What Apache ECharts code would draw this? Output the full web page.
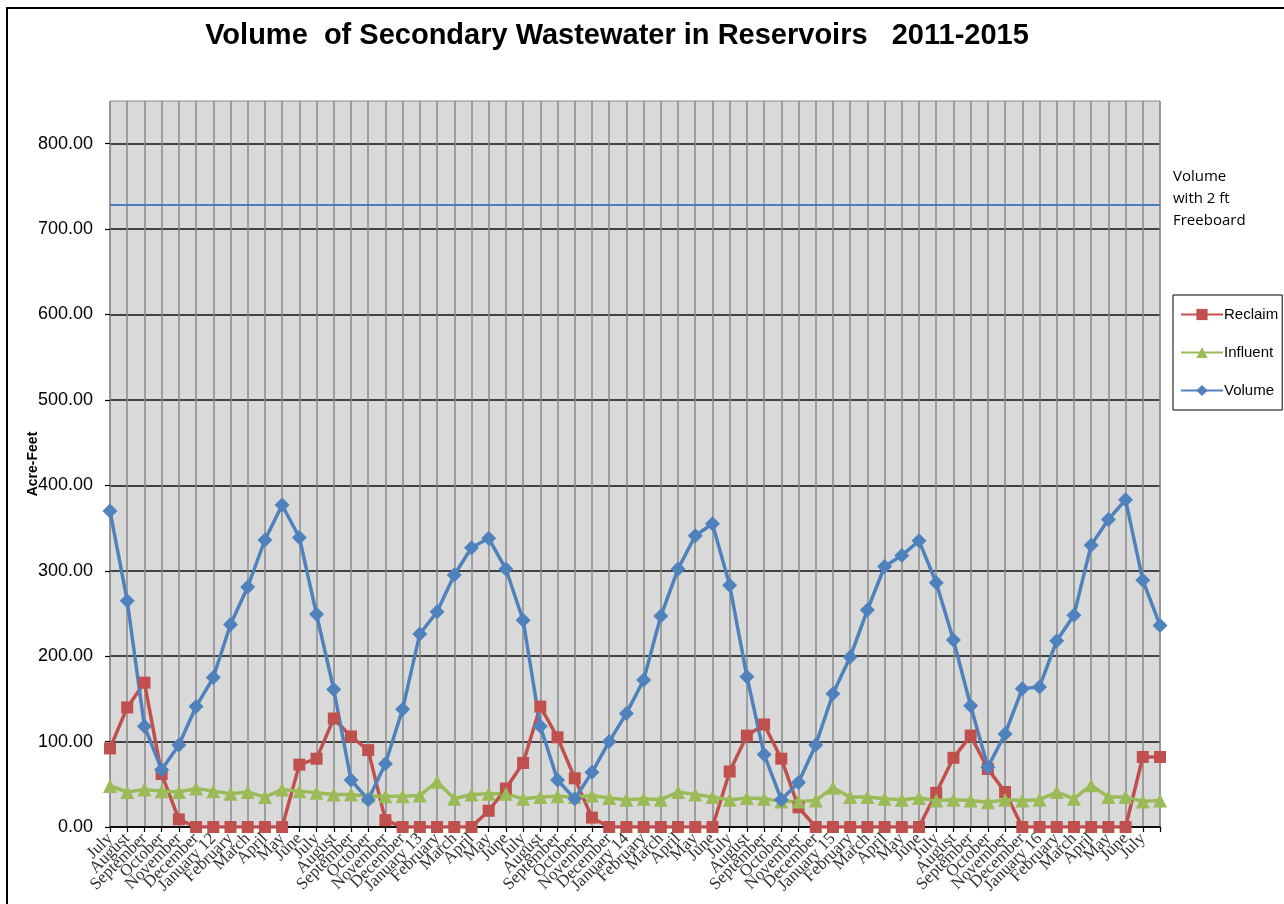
<!DOCTYPE html>
<html>
<head>
<meta charset="utf-8">
<title>Volume of Secondary Wastewater in Reservoirs 2011-2015</title>
<script src="https://cdn.jsdelivr.net/npm/echarts@6/dist/echarts.min.js"></script>
<style>
  html, body { margin: 0; padding: 0; background: #fff; }
  #chart { width: 1284px; height: 904px; }
</style>
</head>
<body>
<div id="chart"></div>
<script>
// July 2011 .. July 2016, last point has no label in the original
const months = [
  "July", "August", "September", "October", "November", "December",
  "January 12", "February", "March", "April", "May", "June",
  "July", "August", "September", "October", "November", "December",
  "January 13", "February", "March", "April", "May", "June",
  "July", "August", "September", "October", "November", "December",
  "January 14", "February", "March", "April", "May", "June",
  "July", "August", "September", "October", "November", "December",
  "January 15", "February", "March", "April", "May", "June",
  "July", "August", "September", "October", "November", "December",
  "January 16", "February", "March", "April", "May", "June",
  "July", ""
];

const reclaim = [
  92, 140, 169, 62, 9, 0, 0, 0, 0, 0, 0, 73,
  80, 127, 106, 90, 8, 0, 0, 0, 0, 0, 19, 45,
  75, 141, 105, 57, 11, 0, 0, 0, 0, 0, 0, 0,
  65, 107, 120, 80, 23, 0, 0, 0, 0, 0, 0, 0,
  40, 81, 107, 68, 41, 0, 0, 0, 0, 0, 0, 0,
  82, 82
];

const influent = [
  48, 41, 44, 42, 41, 45, 42, 39, 41, 35, 44, 42,
  40, 38, 38, 36, 36, 36, 37, 53, 33, 38, 39, 39,
  33, 35, 36, 35, 37, 34, 32, 33, 32, 41, 38, 35,
  32, 34, 33, 30, 30, 31, 46, 35, 35, 33, 32, 34,
  31, 32, 31, 29, 32, 31, 32, 41, 33, 49, 35, 35,
  30, 31
];

const volume = [
  370, 265, 118, 67, 96, 141, 175, 237, 281, 336, 377, 339,
  249, 161, 55, 32, 74, 138, 226, 252, 295, 327, 338, 302,
  242, 118, 55, 33, 64, 100, 133, 172, 247, 302, 341, 355,
  283, 176, 85, 32, 52, 96, 156, 199, 254, 305, 318, 335,
  286, 219, 142, 70, 109, 162, 164, 218, 248, 330, 360, 383,
  289, 236
];

const freeboardLevel = 729;

const chart = echarts.init(document.getElementById("chart"));

const option = {
  animation: false,
  backgroundColor: "#fff",
  title: {
    text: "Volume  of Secondary Wastewater in Reservoirs   2011-2015",
    left: 617,
    top: 21,
    padding: 0,
    textAlign: "center",
    textStyle: {
      fontFamily: "Liberation Sans, Arial, sans-serif",
      fontWeight: "bold",
      fontSize: 29,
      color: "#000",
    },
  },
  legend: {
    orient: "vertical",
    left: 1173,
    top: 295,
    padding: [12, 4, 12, 7],
    itemGap: 23,
    itemWidth: 42,
    itemHeight: 14,
    borderColor: "#000",
    borderWidth: 1,
    backgroundColor: "#fff",
    data: ["Reclaim", "Influent", "Volume"],
    textStyle: {
      fontFamily: "Liberation Sans, Arial, sans-serif",
      fontSize: 15,
      color: "#000",
      padding: [0, 0, 0, -4],
    },
  },
  grid: {
    left: 110,
    right: 124,
    top: 101,
    bottom: 77,
    containLabel: false,
    show: true,
    backgroundColor: "#D9D9D9",
    borderColor: "#8a8a8a",
    borderWidth: 1,
  },
  xAxis: {
    type: "category",
    data: months,
    boundaryGap: false,
    axisLine: { show: true, lineStyle: { color: "#000", width: 1.5 } },
    axisTick: {
      show: true,
      interval: 0,
      length: 5,
      lineStyle: { color: "#000", width: 1.2 },
    },
    axisLabel: {
      interval: 0,
      rotate: 45,
      margin: 9,
      fontFamily: "Liberation Serif, Times New Roman, serif",
      fontSize: 17,
      color: "#333",
    },
    splitLine: {
      show: true,
      interval: 0,
      lineStyle: { color: "#8a8a8a", width: 1.5 },
    },
  },
  yAxis: {
    type: "value",
    min: 0,
    max: 850,
    interval: 100,
    name: "Acre-Feet",
    nameLocation: "middle",
    nameGap: 70,
    nameMoveOverlap: false,
    nameTextStyle: {
      fontFamily: "Liberation Sans, Arial, sans-serif",
      fontWeight: "bold",
      fontSize: 14,
      color: "#000",
    },
    axisLine: { show: false },
    axisTick: { show: true, length: 5, lineStyle: { color: "#000", width: 1.2 } },
    axisLabel: {
      showMaxLabel: false,
      margin: 17,
      fontFamily: "Liberation Sans, Arial, sans-serif",
      fontSize: 18,
      color: "#000",
      formatter: (v) => v.toFixed(2),
    },
    splitLine: {
      show: true,
      showMaxLine: false,
      lineStyle: { color: "#111", width: 1.5 },
    },
  },
  series: [
    {
      name: "Reclaim",
      type: "line",
      data: reclaim,
      symbol: "rect",
      symbolSize: 12,
      showAllSymbol: true,
      lineStyle: { color: "#C0504D", width: 3.5 },
      itemStyle: { color: "#C0504D" },
    },
    {
      name: "Influent",
      type: "line",
      data: influent,
      symbol: "triangle",
      symbolSize: 14,
      showAllSymbol: true,
      lineStyle: { color: "#9BBB59", width: 3.5 },
      itemStyle: { color: "#9BBB59" },
    },
    {
      name: "Volume",
      type: "line",
      data: volume,
      symbol: "diamond",
      symbolSize: 15,
      showAllSymbol: true,
      lineStyle: { color: "#4F81BD", width: 3.5 },
      itemStyle: { color: "#4F81BD" },
      markLine: {
        silent: true,
        symbol: "none",
        label: { show: false },
        lineStyle: { color: "#4A7EBB", width: 2, type: "solid" },
        data: [{ yAxis: freeboardLevel }],
      },
    },
  ],
  graphic: [
    {
      type: "rect",
      shape: { x: 7, y: 8, width: 1300, height: 1000 },
      style: { fill: "none", stroke: "#000", lineWidth: 2 },
      silent: true,
    },
    {
      type: "text",
      x: 1173,
      y: 166,
      style: {
        text: "Volume\nwith 2 ft\nFreeboard",
        font: "15px 'Open Sans', sans-serif",
        lineHeight: 22,
        fill: "#000",
        textVerticalAlign: "top",
      },
      silent: true,
    },
  ],
};

chart.setOption(option);
</script>
</body>
</html>
